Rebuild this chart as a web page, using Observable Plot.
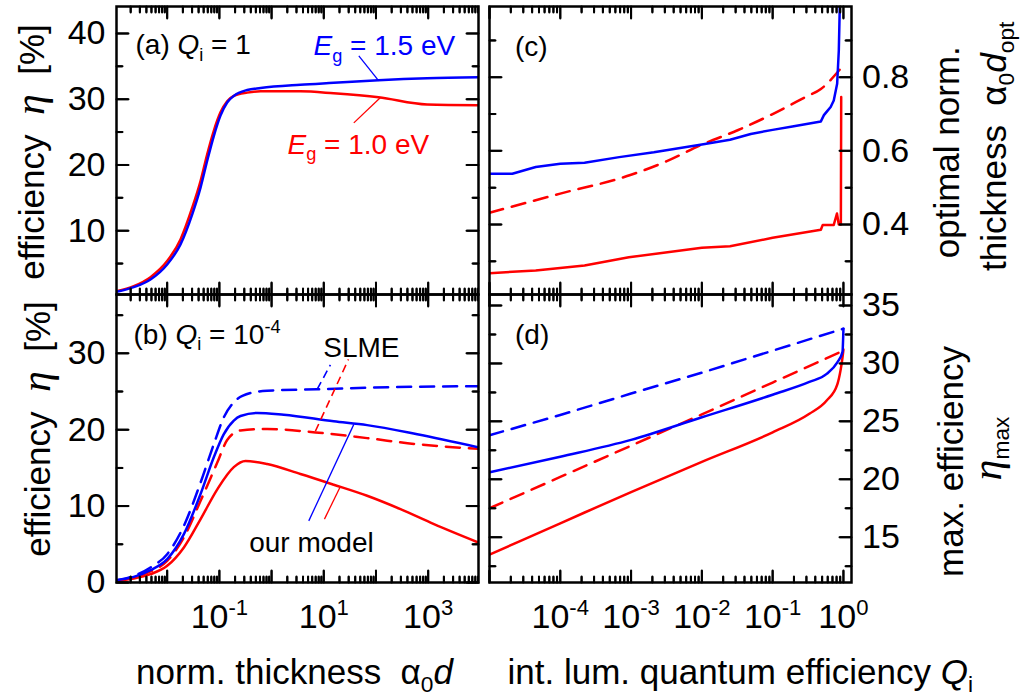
<!DOCTYPE html>
<html>
<head>
<meta charset="utf-8">
<script src="https://cdn.jsdelivr.net/npm/d3@7"></script>
<script src="https://cdn.jsdelivr.net/npm/@observablehq/plot@0.6"></script>
<style>
  html, body { margin: 0; padding: 0; background: white; }
  #figure { position: relative; width: 1021px; height: 697px; overflow: hidden; background: white; }
  #figure > svg { position: absolute; left: 0; top: 0; }
</style>
</head>
<body>
<div id="figure"></div>
<script>
// ---------------------------------------------------------------
// Data
// ---------------------------------------------------------------

// (a) Q_i = 1 : efficiency vs normalised thickness alpha0*d
const thicknessA = [0.00107, 0.00229, 0.00479, 0.01, 0.018, 0.0302, 0.0437, 0.0583, 0.0782, 0.105,
                    0.141, 0.189, 0.341, 0.617, 3.55, 15.5, 112, 955, 9120];
const etaA_Eg15 = [0.71, 1.42, 2.59, 4.87, 7.92, 12.5, 16.6, 20.6, 24.4, 27.5,
                   29.5, 30.5, 31.4, 31.7, 32.2, 32.5, 32.9, 33.2, 33.35];
const etaA_Eg10 = [0.81, 1.57, 2.94, 5.38, 8.68, 13.5, 17.6, 21.6, 25.2, 28.0,
                   29.7, 30.5, 31.0, 31.2, 31.2, 30.9, 30.3, 29.2, 29.1];

// (b) Q_i = 1e-4 : [alpha0*d, efficiency]
const modelB_Eg15 = [[0.00107, 0.31], [0.00229, 0.74], [0.00479, 1.62], [0.01, 3.06], [0.0209, 6.33],
                     [0.0437, 11.6], [0.0782, 16.4], [0.121, 19.4], [0.189, 21.2], [0.254, 21.8],
                     [0.53, 22.2], [1.71, 21.95], [15.5, 21.1], [67.6, 20.6], [617, 19.4], [9120, 17.7]];
const modelB_Eg10 = [[0.00107, 0.22], [0.00229, 0.52], [0.00479, 1.09], [0.01, 2.18], [0.0209, 4.59],
                     [0.0437, 8.3], [0.0912, 12.2], [0.189, 15.1], [0.316, 15.9], [0.824, 15.5],
                     [3.57, 14.2], [15.5, 12.8], [67.6, 11.35], [295, 9.6], [1290, 7.64], [9120, 5.24]];
const slmeB_Eg15 = [[0.00107, 0.31], [0.00229, 0.87], [0.00479, 1.97], [0.01, 3.71], [0.0209, 7.42],
                    [0.0437, 13.1], [0.0782, 18.1], [0.121, 21.6], [0.189, 23.6], [0.394, 24.8],
                    [0.824, 25.1], [7.48, 25.3], [67.6, 25.5], [9120, 25.7]];
const slmeB_Eg10 = [[0.00107, 0.22], [0.00229, 0.66], [0.00479, 1.44], [0.01, 2.84], [0.0209, 5.9],
                    [0.0437, 10.7], [0.0912, 15.7], [0.141, 18.65], [0.254, 19.9], [0.824, 20.1],
                    [6.92, 19.65], [67.6, 18.9], [617, 18.1], [9120, 17.5]];

// (c) optimal normalised thickness vs Q_i : [Q_i, alpha0*d_opt]
const optC_Eg15 = [[1e-5, 0.538], [2.1e-5, 0.538], [4.5e-5, 0.556], [1e-4, 0.565], [2.2e-4, 0.568],
                   [6.8e-4, 0.583], [2.1e-3, 0.596], [1e-2, 0.617], [2.5e-2, 0.630], [4.9e-2, 0.646],
                   [0.1, 0.657], [0.19, 0.666], [0.48, 0.680], [0.53, 0.697], [0.59, 0.708],
                   [0.66, 0.719], [0.73, 0.737], [0.815, 0.782], [0.86, 0.872], [0.89, 1.0]];
const optC_Eg10 = [[1e-5, 0.268], [4.5e-5, 0.275], [2.2e-4, 0.289], [9.3e-4, 0.311], [1e-2, 0.337],
                   [2.5e-2, 0.341], [0.1, 0.364], [0.48, 0.386], [0.51, 0.399], [0.73, 0.399],
                   [0.81, 0.43], [0.86, 0.40], [0.92, 0.40], [0.93, 0.746]];
const slmeC_Eg10 = [[1e-5, 0.432], [1e-4, 0.484], [1e-3, 0.535], [3.2e-3, 0.572], [1e-2, 0.617],
                    [3.2e-2, 0.656], [0.1, 0.70], [0.29, 0.746], [0.48, 0.768], [0.91, 0.823]];

// (d) maximum efficiency vs Q_i : [Q_i, eta_max]
const maxD_Eg15 = [[1e-5, 20.6], [1e-4, 21.95], [1e-3, 23.4], [1e-2, 25.35], [0.1, 27.3],
                   [0.33, 28.4], [0.58, 29.1], [0.82, 30.1], [0.97, 31.0], [1.0, 33.0]];
const maxD_Eg10 = [[1e-5, 13.5], [1e-4, 16.2], [1e-3, 18.9], [1e-2, 21.5], [0.1, 24.05],
                   [0.33, 25.65], [0.58, 26.8], [0.82, 28.2], [0.91, 29.4], [0.97, 30.5], [1.0, 31.2]];
const slmeD_Eg15 = [[1e-5, 23.8], [1e-4, 25.55], [1e-3, 27.4], [1e-2, 29.2], [0.1, 31.1], [1.0, 33.0]];
const slmeD_Eg10 = [[1e-5, 17.5], [1e-4, 20.2], [1e-3, 22.9], [1e-2, 25.6], [0.1, 28.35], [1.0, 31.1]];

// Tick labels
const yLabelsA = [10, 20, 30, 40];
const yLabelsB = [0, 10, 20, 30];
const yLabelsC = [0.4, 0.6, 0.8];
const yLabelsD = [15, 20, 25, 30, 35];
const xLabelsB = [0.1, 10, 1000];
const xLabelsD = [1e-4, 1e-3, 1e-2, 1e-1, 1];

// Annotation anchors (data units)
const bandLabelsA = [
  {text: "*E*_{g} = 1.5 eV", x: 6.35, y: 36.65, color: "#0000ff"},
  {text: "*E*_{g} = 1.0 eV", x: 2.02, y: 21.73, color: "#ff0000"}
];
const bandLinksA = [
  {x1: 46.9, y1: 36.6, x2: 113, y2: 32.8, color: "#0000ff"},
  {x1: 122, y1: 30.25, x2: 37.6, y2: 26.4, color: "#ff0000"}
];
const notesB = [
  {text: "SLME", x: 52.5, y: 29.5},
  {text: "our model", x: 5.81, y: 3.93}
];
const slmeLinksB = [
  {x1: 7.5, y1: 25.3, x2: 13.4, y2: 28.5, color: "#0000ff"},
  {x1: 6.9, y1: 19.8, x2: 29.7, y2: 29.2, color: "#ff0000"}
];
const modelLinksB = [
  {x1: 5.16, y1: 8.07, x2: 37.6, y2: 20.7, color: "#0000ff"},
  {x1: 10.3, y1: 8.3, x2: 20.9, y2: 12.6, color: "#ff0000"}
];

// ---------------------------------------------------------------
// Drawing
// ---------------------------------------------------------------
const W = 1021, H = 697;
const SANS = "'Liberation Sans', Arial, sans-serif";
const SERIF = "'Liberation Serif', 'DejaVu Serif', serif";
const BLUE = "#0000ff", RED = "#ff0000";
const DASH = "14,9";
const LW = 2.5;
const fig = document.getElementById("figure");

// Turn the small markup used in labels into tspans:
//   *x* italic, _{x} subscript, ^{x} superscript, #{x} large serif italic symbol
function richText(svg) {
  const NS = "http://www.w3.org/2000/svg";
  const token = /(\*[^*]+\*|_\{[^}]*\}|\^\{[^}]*\}|#\{[^}]*\})/;
  for (const t of svg.querySelectorAll("text")) {
    const s = t.textContent;
    if (!token.test(s)) continue;
    const parts = s.split(token).filter(p => p !== "");
    t.textContent = "";
    let shift = 0;
    for (const p of parts) {
      let str = p, size = 1, target = 0, italic = false, serif = false;
      if (p.startsWith("_{")) { str = p.slice(2, -1); size = 0.65; target = 0.24; }
      else if (p.startsWith("^{")) { str = p.slice(2, -1); size = 0.65; target = -0.38; }
      else if (p.startsWith("#{")) { str = p.slice(2, -1); size = 1.2; italic = true; serif = true; }
      else if (/^\*[^*]+\*$/.test(p)) { str = p.slice(1, -1); italic = true; }
      const ts = document.createElementNS(NS, "tspan");
      if (size !== 1) ts.setAttribute("font-size", `${size}em`);
      if (italic) ts.setAttribute("font-style", "italic");
      if (serif) ts.setAttribute("font-family", SERIF);
      if (target !== shift) ts.setAttribute("dy", `${((target - shift) / size).toFixed(3)}em`);
      shift = target;
      ts.textContent = str;
      t.appendChild(ts);
    }
  }
}

function logTicks(domain) {
  const all = d3.scaleLog().domain(domain).ticks();
  const isDecade = v => Math.abs(Math.log10(v) - Math.round(Math.log10(v))) < 1e-9;
  return {major: all.filter(isDecade), minor: all.filter(v => !isDecade(v))};
}

// Inward tick segments on all four sides of a panel, in data units
function frameTicks(x, y, fw, fh, yMajor, yMinor) {
  const xt = logTicks(x);
  const yLen = len => len / fh * (y[1] - y[0]);
  const xFac = len => Math.pow(10, len / fw * Math.log10(x[1] / x[0]));
  const segs = [];
  for (const [vals, len] of [[xt.major, 12], [xt.minor, 6]]) {
    for (const v of vals) {
      segs.push({x1: v, x2: v, y1: y[0], y2: y[0] + yLen(len)});
      segs.push({x1: v, x2: v, y1: y[1] - yLen(len), y2: y[1]});
    }
  }
  for (const [vals, len] of [[yMajor, 12], [yMinor, 6]]) {
    for (const v of vals) {
      segs.push({x1: x[0], x2: x[0] * xFac(len), y1: v, y2: v});
      segs.push({x1: x[1] / xFac(len), x2: x[1], y1: v, y2: v});
    }
  }
  return segs;
}

// The same ticks as pixel-length vectors pointing into the frame
const tickShape = {draw(ctx, l) { ctx.moveTo(0, 0); ctx.lineTo(0, -l); }};
function vectorTicks(x, yMajor, yMinor) {
  const xt = logTicks(x);
  const o = {anchor: "start", shape: tickShape, stroke: "black", strokeWidth: 2};
  const out = [];
  for (const [vals, len] of [[xt.major, 12], [xt.minor, 6]]) {
    out.push(Plot.vector(vals, {x: d => d, frameAnchor: "bottom", rotate: 0, length: len, ...o}));
    out.push(Plot.vector(vals, {x: d => d, frameAnchor: "top", rotate: 180, length: len, ...o}));
  }
  for (const [vals, len] of [[yMajor, 12], [yMinor, 6]]) {
    out.push(Plot.vector(vals, {y: d => d, frameAnchor: "left", rotate: 90, length: len, ...o}));
    out.push(Plot.vector(vals, {y: d => d, frameAnchor: "right", rotate: -90, length: len, ...o}));
  }
  return out;
}

const frameLayers = [];

function panel({margin, x, y, yMajor, yMinor, marks}) {
  const [mt, mr, mb, ml] = margin;
  const fw = W - ml - mr, fh = H - mt - mb;
  const base = {
    width: W, height: H,
    marginTop: mt, marginRight: mr, marginBottom: mb, marginLeft: ml,
    x: {type: "log", domain: x, axis: null},
    y: {domain: y, axis: null},
    style: {fontFamily: SANS, background: "transparent", color: "black"}
  };
  // curves and labels
  const content = Plot.plot({...base, marks});
  richText(content);
  fig.appendChild(content);
  // frame with inward ticks, laid over the content
  const segs = frameTicks(x, y, fw, fh, yMajor, yMinor);
  frameLayers.push(Plot.plot({...base, marks: [
    Plot.link(segs, {x1: "x1", y1: "y1", x2: "x2", y2: "y2", stroke: "black", strokeWidth: 2}),
    ...vectorTicks(x, yMajor, yMinor),
    Plot.frame({stroke: "black", strokeWidth: 2.5})
  ]}));
}

const curve = (data, color, dashed, extra = {}) =>
  Plot.line(data, {x: d => d[0], y: d => d[1], stroke: color, strokeWidth: LW,
    strokeDasharray: dashed ? DASH : null, curve: "monotone-x", clip: true, ...extra});

const pow10 = d => `10^{${Math.round(Math.log10(d))}}`;

// ---- (a) ----
panel({
  margin: [6, 543, 403, 116],
  x: [0.00107, 9200], y: [0.3, 44.1],
  yMajor: [10, 20, 30, 40], yMinor: [5, 15, 25, 35],
  marks: [
    Plot.line(thicknessA, {x: d => d, y: (d, i) => etaA_Eg10[i], stroke: RED, strokeWidth: LW, curve: "monotone-x", clip: true}),
    Plot.line(thicknessA, {x: d => d, y: (d, i) => etaA_Eg15[i], stroke: BLUE, strokeWidth: LW, curve: "monotone-x", clip: true}),
    Plot.link(bandLinksA, {x1: "x1", y1: "y1", x2: "x2", y2: "y2", stroke: "color", strokeWidth: 1.3}),
    Plot.text(bandLabelsA, {x: "x", y: "y", text: "text", fill: "color", fontSize: 28, textAnchor: "start", lineAnchor: "bottom"}),
    Plot.text(["(a) *Q*_{i} = 1"], {text: d => d, frameAnchor: "top-left", dx: 19, dy: 47.5, fontSize: 28, textAnchor: "start", lineAnchor: "bottom"}),
    Plot.text(yLabelsA, {y: d => d, text: d => `${d}`, frameAnchor: "left", dx: -11, textAnchor: "end", lineAnchor: "middle", fontSize: 34}),
    Plot.text(["efficiency  #{η}  [%]"], {text: d => d, frameAnchor: "left", dx: -73, dy: 1.5, rotate: -90, fontSize: 35, textAnchor: "middle", lineAnchor: "bottom"})
  ]
});

// ---- (b) ----
panel({
  margin: [294, 543, 115, 116],
  x: [0.00107, 9200], y: [0, 37.7],
  yMajor: [0, 10, 20, 30], yMinor: [5, 15, 25, 35],
  marks: [
    curve(slmeB_Eg10, RED, true),
    curve(slmeB_Eg15, BLUE, true),
    curve(modelB_Eg10, RED, false),
    curve(modelB_Eg15, BLUE, false),
    Plot.link(slmeLinksB, {x1: "x1", y1: "y1", x2: "x2", y2: "y2", stroke: "color", strokeWidth: 1.6, strokeDasharray: "8,5"}),
    Plot.link(modelLinksB, {x1: "x1", y1: "y1", x2: "x2", y2: "y2", stroke: "color", strokeWidth: 1.3}),
    Plot.text(notesB, {x: "x", y: "y", text: "text", fill: "black", fontSize: 28, textAnchor: "middle", lineAnchor: "bottom"}),
    Plot.text(["(b) *Q*_{i} = 10^{-4}"], {text: d => d, frameAnchor: "top-left", dx: 17, dy: 49, fontSize: 28, textAnchor: "start", lineAnchor: "bottom"}),
    Plot.text(yLabelsB, {y: d => d, text: d => `${d}`, frameAnchor: "left", dx: -11, textAnchor: "end", lineAnchor: "middle", fontSize: 34}),
    Plot.text(xLabelsB, {x: d => d, text: pow10, frameAnchor: "bottom", dy: 45.3, textAnchor: "middle", lineAnchor: "bottom", fontSize: 34}),
    Plot.text(["efficiency  #{η}  [%]"], {text: d => d, frameAnchor: "left", dx: -67, dy: -9.5, rotate: -90, fontSize: 35, textAnchor: "middle", lineAnchor: "bottom"}),
    Plot.text(["norm. thickness  α_{0}*d*"], {text: d => d, frameAnchor: "bottom", dx: -3, dy: 101.5, fontSize: 35, textAnchor: "middle", lineAnchor: "bottom"})
  ]
});

// ---- (c) ----
panel({
  margin: [6, 170, 403, 489],
  x: [1e-5, 1.3], y: [0.21, 0.992],
  yMajor: [0.4, 0.6, 0.8], yMinor: [0.3, 0.5, 0.7, 0.9],
  marks: [
    curve(slmeC_Eg10, RED, true),
    curve(optC_Eg10, RED, false, {curve: "linear"}),
    curve(optC_Eg15, BLUE, false, {curve: "linear"}),
    Plot.text(["(c)"], {text: d => d, frameAnchor: "top-left", dx: 25.5, dy: 49, fontSize: 28, textAnchor: "start", lineAnchor: "bottom"}),
    Plot.text(yLabelsC, {y: d => d, text: d => d.toFixed(1), frameAnchor: "right", dx: 10.5, textAnchor: "start", lineAnchor: "middle", fontSize: 34}),
    Plot.text(["optimal norm."], {text: d => d, frameAnchor: "right", dx: 107, dy: 1.7, rotate: -90, fontSize: 35, textAnchor: "middle", lineAnchor: "bottom"}),
    Plot.text(["thickness  α_{0}*d*_{opt}"], {text: d => d, frameAnchor: "right", dx: 154, dy: -4.2, rotate: -90, fontSize: 35, textAnchor: "middle", lineAnchor: "bottom"})
  ]
});

// ---- (d) ----
panel({
  margin: [294, 170, 115, 489],
  x: [1e-5, 1.3], y: [11.09, 35.95],
  yMajor: [15, 20, 25, 30, 35], yMinor: [12.5, 17.5, 22.5, 27.5, 32.5],
  marks: [
    curve(slmeD_Eg15, BLUE, true, {curve: "linear"}),
    curve(slmeD_Eg10, RED, true, {curve: "linear"}),
    curve(maxD_Eg10, RED, false),
    curve(maxD_Eg15, BLUE, false),
    Plot.text(["(d)"], {text: d => d, frameAnchor: "top-left", dx: 25.5, dy: 49, fontSize: 28, textAnchor: "start", lineAnchor: "bottom"}),
    Plot.text(yLabelsD, {y: d => d, text: d => `${d}`, frameAnchor: "right", dx: 10.5, textAnchor: "start", lineAnchor: "middle", fontSize: 34}),
    Plot.text(xLabelsD, {x: d => d, text: pow10, frameAnchor: "bottom", dy: 45.3, textAnchor: "middle", lineAnchor: "bottom", fontSize: 34}),
    Plot.text(["max. efficiency"], {text: d => d, frameAnchor: "right", dx: 111, dy: 23, rotate: -90, fontSize: 35, textAnchor: "middle", lineAnchor: "bottom"}),
    Plot.text(["#{η}_{max}"], {text: d => d, frameAnchor: "right", dx: 149, dy: 10, rotate: -90, fontSize: 35, textAnchor: "middle", lineAnchor: "bottom"}),
    Plot.text(["int. lum. quantum efficiency *Q*_{i}"], {text: d => d, frameAnchor: "bottom-left", dx: 18, dy: 101.5, fontSize: 35, textAnchor: "start", lineAnchor: "bottom"})
  ]
});

for (const layer of frameLayers) fig.appendChild(layer);
</script>
</body>
</html>
